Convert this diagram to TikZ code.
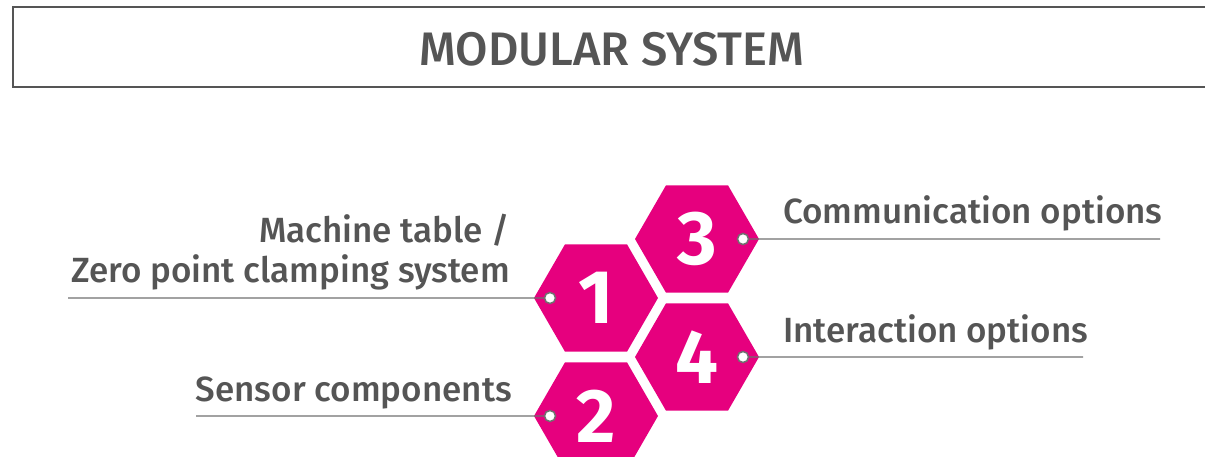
\documentclass[tikz,border=0pt]{standalone}
\usepackage{fontspec}
\setmainfont{Fira Sans}
\IfFontExistsTF{Fira Sans Medium}
  {\newfontfamily\medfont{Fira Sans Medium}}
  {\newfontfamily\medfont[FakeBold=1.5]{Fira Sans}}
\usetikzlibrary{shapes.geometric}

\definecolor{hexpink}{RGB}{230,0,126}
\definecolor{textgray}{RGB}{85,85,85}
\definecolor{linegray}{RGB}{112,112,112}

\begin{document}
\begin{tikzpicture}[x=1pt,y=-1pt,
  hex/.style={regular polygon, regular polygon sides=6, minimum size=124pt,
    inner sep=0pt, outer sep=0pt, fill=hexpink, text=white,
    font=\fontsize{76}{76}\selectfont\bfseries},
  joint/.style={circle, draw=linegray, fill=white, line width=1.5pt,
    minimum size=11pt, inner sep=0pt},
  leader/.style={draw=linegray, line width=1.3pt},
  itemtext/.style={text=textgray, inner sep=0pt,
    font=\medfont\fontsize{35}{40}\selectfont}
]
\useasboundingbox (0,0) rectangle (1205,457);

% Title frame, open on the right
\draw[textgray, line width=1.2pt] (1205,7) -- (13,7) -- (13,87) -- (1205,87);
\node[text=textgray, font=\medfont\fontsize{47}{52}\selectfont] (title) at (612,49) {MODULAR SYSTEM};

% The four modules
\node[hex] (h1) at (596,298) {1};
\node[hex] (h2) at (596,416) {2};
\node[hex] (h3) at (697,239) {3};
\node[hex] (h4) at (697,357) {4};

% Connection points inside the hexagons
\node[joint] (d1) at ([xshift=16pt]h1.west) {};
\node[joint] (d2) at ([xshift=16pt]h2.west) {};
\node[joint] (d3) at ([xshift=-16pt]h3.east) {};
\node[joint] (d4) at ([xshift=-16pt]h4.east) {};

% Free ends of the leader lines
\coordinate (e1) at (68,298);
\coordinate (e2) at (196,416);
\coordinate (e3) at (1160,239);
\coordinate (e4) at (1083,357);

\draw[leader] (d1) -- (e1);
\draw[leader] (d2) -- (e2);
\draw[leader] (d3) -- (e3);
\draw[leader] (d4) -- (e4);

% Captions
\node[itemtext, anchor=base east] (t1a) at (510,243) {Machine table /};
\node[itemtext, anchor=base east] (t1b) at (510,283) {Zero point clamping system};
\node[itemtext, anchor=base east] (t2) at (512,401) {Sensor components};
\node[itemtext, anchor=base west] (t3) at (783,224) {Communication options};
\node[itemtext, anchor=base west] (t4) at (783,342) {Interaction options};

\end{tikzpicture}
\end{document}
